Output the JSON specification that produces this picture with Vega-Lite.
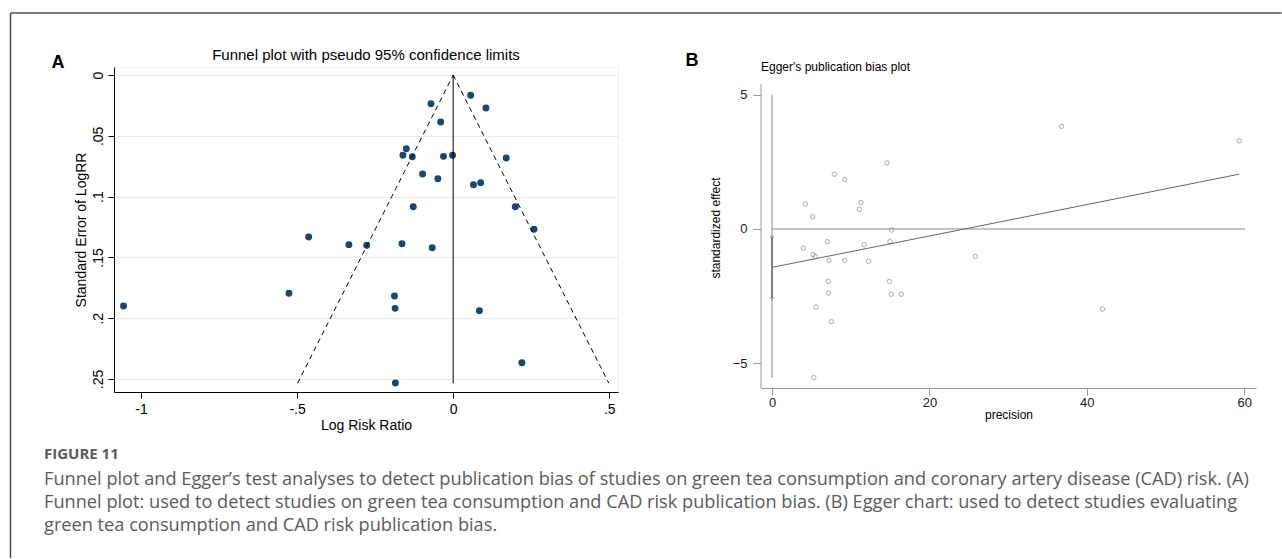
{
  "$schema": "https://vega.github.io/schema/vega-lite/v6.json",
  "padding": {"left": 9, "top": 11, "right": 0, "bottom": 0},
  "background": "white",
  "config": {"font": "Liberation Sans", "view": {"stroke": null}, "axis": {"grid": false}},
  "datasets": {
    "funnel": [
      {"lrr": 0.056, "se": 0.0167}, {"lrr": -0.071, "se": 0.0236}, {"lrr": 0.105, "se": 0.0271},
      {"lrr": -0.04, "se": 0.0387}, {"lrr": -0.15, "se": 0.0606}, {"lrr": -0.161, "se": 0.066},
      {"lrr": -0.131, "se": 0.0672}, {"lrr": -0.031, "se": 0.0669}, {"lrr": -0.002, "se": 0.066},
      {"lrr": 0.17, "se": 0.0683}, {"lrr": -0.098, "se": 0.0814}, {"lrr": -0.049, "se": 0.0853},
      {"lrr": 0.065, "se": 0.0902}, {"lrr": 0.088, "se": 0.0885}, {"lrr": -0.128, "se": 0.1083},
      {"lrr": 0.199, "se": 0.1083}, {"lrr": 0.259, "se": 0.1269}, {"lrr": -0.463, "se": 0.1332},
      {"lrr": -0.334, "se": 0.1395}, {"lrr": -0.277, "se": 0.14}, {"lrr": -0.164, "se": 0.1387},
      {"lrr": -0.067, "se": 0.142}, {"lrr": -0.526, "se": 0.1795}, {"lrr": -0.188, "se": 0.1817},
      {"lrr": -0.186, "se": 0.1919}, {"lrr": 0.084, "se": 0.1938}, {"lrr": 0.22, "se": 0.2366},
      {"lrr": -0.185, "se": 0.2533}, {"lrr": -1.056, "se": 0.19}
    ],
    "funnelLimits": [
      {"side": "lower", "lrr": 0, "se": 0}, {"side": "lower", "lrr": -0.4985, "se": 0.2535},
      {"side": "upper", "lrr": 0, "se": 0}, {"side": "upper", "lrr": 0.4985, "se": 0.2535}
    ],
    "egger": [
      {"prec": 4.23, "eff": 0.93}, {"prec": 3.98, "eff": -0.72}, {"prec": 5.17, "eff": 0.45},
      {"prec": 5.21, "eff": -0.95}, {"prec": 5.5, "eff": -1.02}, {"prec": 5.59, "eff": -2.91},
      {"prec": 5.3, "eff": -5.53}, {"prec": 7.03, "eff": -0.47}, {"prec": 7.24, "eff": -1.17},
      {"prec": 7.15, "eff": -1.95}, {"prec": 7.2, "eff": -2.38}, {"prec": 7.54, "eff": -3.45},
      {"prec": 7.92, "eff": 2.04}, {"prec": 9.23, "eff": 1.84}, {"prec": 9.23, "eff": -1.17},
      {"prec": 11.1, "eff": 0.73}, {"prec": 11.3, "eff": 0.98}, {"prec": 11.73, "eff": -0.58},
      {"prec": 12.28, "eff": -1.2}, {"prec": 14.6, "eff": 2.46}, {"prec": 14.99, "eff": -0.47},
      {"prec": 15.2, "eff": -0.04}, {"prec": 14.9, "eff": -1.95}, {"prec": 15.16, "eff": -2.43},
      {"prec": 16.43, "eff": -2.43}, {"prec": 25.83, "eff": -1.02}, {"prec": 36.8, "eff": 3.82},
      {"prec": 42.0, "eff": -2.98}, {"prec": 59.37, "eff": 3.28}
    ],
    "eggerFit": [
      {"prec": 0, "eff": -1.43, "prec2": 59.37, "eff2": 2.04}
    ],
    "eggerCI": [
      {"prec": 0, "eff": -2.57}, {"prec": 0, "eff": -0.3}
    ]
  },
  "columns": 2,
  "align": "none",
  "bounds": "flush",
  "spacing": {"column": 143, "row": 49},
  "concat": [
    {
      "width": 504,
      "height": 325,
      "title": {"text": "Funnel plot with pseudo 95% confidence limits", "frame": "group", "fontSize": 15, "fontWeight": "normal", "color": "black", "anchor": "middle", "offset": -51},
      "view": {"stroke": "#eef2f4"},
      "layer": [
        {
          "data": {"name": "funnel"},
          "mark": {"type": "point", "filled": true, "color": "#1a476f", "size": 48, "opacity": 1},
          "encoding": {
            "x": {"field": "lrr", "type": "quantitative",
              "scale": {"domain": [-1.0865, 0.528], "nice": false, "zero": false},
              "axis": {"values": [-1, -0.5, 0, 0.5], "labelExpr": "replace(toString(datum.value),'0.','.')", "labelFontSize": 14, "labelColor": "black", "tickSize": 6, "tickColor": "black", "domainColor": "black", "labelPadding": 4, "title": "Log Risk Ratio", "titleFontSize": 14, "titleFontWeight": "normal", "titleColor": "black", "titlePadding": 2, "grid": false}},
            "y": {"field": "se", "type": "quantitative",
              "scale": {"domain": [-0.0066, 0.2607], "reverse": true, "nice": false, "zero": false},
              "axis": {"values": [0, 0.05, 0.1, 0.15, 0.2, 0.25], "labelExpr": "replace(toString(datum.value),'0.','.')", "labelAngle": -90, "labelAlign": "center", "labelBaseline": "bottom", "labelFontSize": 14, "labelColor": "black", "tickSize": 6, "tickColor": "black", "domainColor": "black", "labelPadding": 3, "title": "Standard Error of LogRR", "titleFontSize": 14, "titleFontWeight": "normal", "titleColor": "black", "titlePadding": 3, "grid": true, "gridColor": "#e6edf0"}}
          }
        },
        {
          "data": {"name": "funnelLimits"},
          "mark": {"type": "line", "color": "black", "strokeWidth": 1, "strokeDash": [5, 4]},
          "encoding": {
            "x": {"field": "lrr", "type": "quantitative"},
            "y": {"field": "se", "type": "quantitative"},
            "detail": {"field": "side"}
          }
        },
        {
          "data": {"values": [{}]},
          "mark": {"type": "rule", "color": "black", "strokeWidth": 1},
          "encoding": {
            "x": {"datum": 0, "type": "quantitative"},
            "y": {"datum": 0, "type": "quantitative"},
            "y2": {"datum": 0.2535}
          }
        },
        {
          "data": {"values": [{}]},
          "mark": {"type": "rule", "color": "#4d4d4d", "strokeWidth": 1.5, "clip": false},
          "encoding": {
            "x": {"datum": -1.418, "type": "quantitative"},
            "y": {"datum": -0.051, "type": "quantitative"},
            "y2": {"datum": 0.3972}
          }
        },
        {
          "data": {"values": [{}]},
          "mark": {"type": "rule", "color": "#4d4d4d", "strokeWidth": 1.5, "clip": false},
          "encoding": {
            "x": {"datum": -1.418, "type": "quantitative"},
            "x2": {"datum": 2.654},
            "y": {"datum": -0.051, "type": "quantitative"}
          }
        },
        {
          "data": {"values": [{}]},
          "mark": {"type": "text", "text": "A", "fontSize": 18, "fontWeight": "bold", "color": "black", "align": "center", "baseline": "alphabetic", "clip": false},
          "encoding": {
            "x": {"datum": -1.266, "type": "quantitative"},
            "y": {"datum": -0.006, "type": "quantitative"}
          }
        }
      ]
    },
    {
      "width": 495,
      "height": 321,
      "title": {"text": "Egger's publication bias plot", "frame": "group", "fontSize": 12, "fontWeight": "normal", "color": "black", "anchor": "start", "offset": -22},
      "layer": [
        {
          "data": {"name": "egger"},
          "mark": {"type": "point", "filled": false, "color": "#6e6e6e", "size": 20, "strokeWidth": 0.8},
          "encoding": {
            "x": {"field": "prec", "type": "quantitative",
              "scale": {"domain": [-1.4, 61.5], "nice": false, "zero": false},
              "axis": {"values": [0, 20, 40, 60], "labelFontSize": 13, "labelColor": "#222", "tickSize": 7, "tickColor": "#999", "domainColor": "#999", "labelPadding": 1, "title": "precision", "titleFontSize": 12, "titleFontWeight": "normal", "titleColor": "black", "titlePadding": 0}},
            "y": {"field": "eff", "type": "quantitative",
              "scale": {"domain": [-5.92, 6.03], "nice": false, "zero": false},
              "axis": {"values": [-5, 0, 5], "domain": false, "labelFontSize": 13, "labelColor": "#222", "tickSize": 8, "tickColor": "#999", "labelPadding": 6, "title": "standardized effect", "titleFontSize": 12, "titleFontWeight": "normal", "titleColor": "black", "titlePadding": 10}}
          }
        },
        {
          "data": {"values": [{}]},
          "mark": {"type": "rule", "color": "#999", "strokeWidth": 1},
          "encoding": {
            "x": {"datum": -1.4, "type": "quantitative"},
            "y": {"datum": -5.92, "type": "quantitative"},
            "y2": {"datum": 5.4}
          }
        },
        {
          "data": {"values": [{}]},
          "mark": {"type": "rule", "color": "#888", "strokeWidth": 1},
          "encoding": {
            "x": {"datum": 0, "type": "quantitative"},
            "y": {"datum": -5.55, "type": "quantitative"},
            "y2": {"datum": 5.0}
          }
        },
        {
          "data": {"values": [{}]},
          "mark": {"type": "rule", "color": "#888", "strokeWidth": 1},
          "encoding": {
            "x": {"datum": 0, "type": "quantitative"},
            "x2": {"datum": 60.1},
            "y": {"datum": 0, "type": "quantitative"}
          }
        },
        {
          "data": {"name": "eggerCI"},
          "mark": {"type": "rule", "color": "#555", "strokeWidth": 1.2},
          "encoding": {
            "x": {"field": "prec", "type": "quantitative"},
            "y": {"aggregate": "min", "field": "eff", "type": "quantitative"},
            "y2": {"aggregate": "max", "field": "eff"}
          }
        },
        {
          "data": {"name": "eggerCI"},
          "mark": {"type": "point", "shape": "diamond", "filled": false, "color": "#777", "size": 14, "strokeWidth": 0.8},
          "encoding": {
            "x": {"field": "prec", "type": "quantitative"},
            "y": {"field": "eff", "type": "quantitative"}
          }
        },
        {
          "data": {"name": "eggerFit"},
          "mark": {"type": "rule", "color": "#666", "strokeWidth": 1},
          "encoding": {
            "x": {"field": "prec", "type": "quantitative"},
            "y": {"field": "eff", "type": "quantitative"},
            "x2": {"field": "prec2"},
            "y2": {"field": "eff2"}
          }
        },
        {
          "data": {"values": [{}]},
          "mark": {"type": "text", "text": "B", "fontSize": 18, "fontWeight": "bold", "color": "black", "align": "center", "baseline": "alphabetic", "clip": false},
          "encoding": {
            "x": {"datum": -10.17, "type": "quantitative"},
            "y": {"datum": 6.057, "type": "quantitative"}
          }
        }
      ]
    },
    {
      "width": 400,
      "height": 1,
      "data": {"values": []},
      "mark": {"type": "rule"},
      "encoding": {},
      "title": {
        "text": "FIGURE 11",
        "subtitle": [
          "Funnel plot and Egger’s test analyses to detect publication bias of studies on green tea consumption and coronary artery disease (CAD) risk. (A)",
          "Funnel plot: used to detect studies on green tea consumption and CAD risk publication bias. (B) Egger chart: used to detect studies evaluating",
          "green tea consumption and CAD risk publication bias."
        ],
        "orient": "bottom", "anchor": "start", "dx": -70, "offset": 5,
        "font": "Open Sans", "fontSize": 15, "fontWeight": "bold", "color": "#5b5b5b",
        "subtitleFont": "Open Sans", "subtitleFontSize": 18.2, "subtitleColor": "#5b5b5b", "subtitleLineHeight": 23, "subtitlePadding": 9
      }
    }
  ]
}
